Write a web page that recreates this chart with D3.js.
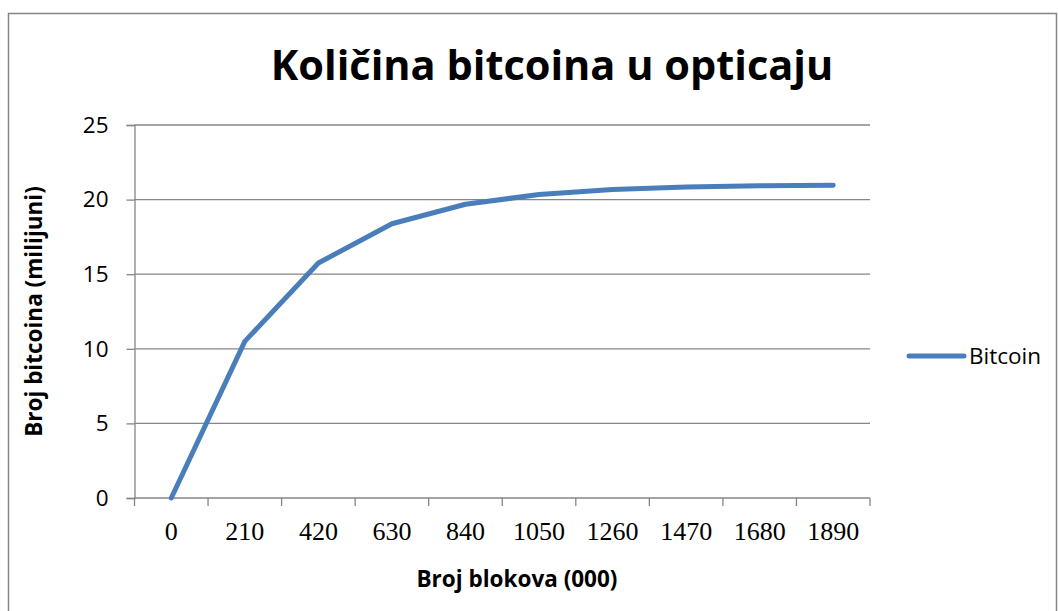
<!DOCTYPE html>
<html>
<head>
<meta charset="utf-8">
<script src="https://cdn.jsdelivr.net/npm/d3@7"></script>
<style>
  body { margin: 0; background: #fff; }
  svg { display: block; }
</style>
</head>
<body>
<div id="chart"></div>
<script>
// categories on the x axis (blocks, thousands)
var blocks = ["0", "210", "420", "630", "840", "1050", "1260", "1470", "1680", "1890"];
// bitcoins in circulation (millions)
var bitcoin = [0, 10.5, 15.75, 18.38, 19.69, 20.34, 20.67, 20.84, 20.92, 20.96];
var yTicks = [0, 5, 10, 15, 20, 25];

var W = 1058, H = 611;
var margin = {top: 125, right: 188, bottom: 113, left: 134.5},
    width = W - margin.left - margin.right,   // ~735.5
    height = H - margin.top - margin.bottom;  // 373

var svg = d3.select("#chart")
  .append("svg")
    .attr("width", W)
    .attr("height", H);

// outer chart border
svg.append("rect")
  .attr("x", 8.5).attr("y", 13.5)
  .attr("width", 1048).attr("height", 620)
  .attr("fill", "none")
  .attr("stroke", "#868686")
  .attr("stroke-width", 1.5);

var g = svg.append("g")
  .attr("transform", "translate(" + margin.left + "," + margin.top + ")");

var x = d3.scaleBand()
  .domain(blocks)
  .range([0, width]);

var y = d3.scaleLinear()
  .domain([0, 25])
  .range([height, 0]);

// horizontal grid lines
g.append("g")
  .selectAll("line")
  .data(yTicks.slice(1))
  .enter().append("line")
    .attr("x1", 0).attr("x2", width)
    .attr("y1", function(d) { return y(d); })
    .attr("y2", function(d) { return y(d); })
    .attr("stroke", "#868686")
    .attr("stroke-width", 1.3);

// y axis
var yAxis = g.append("g")
  .call(d3.axisLeft(y).tickValues(yTicks).tickSize(8).tickPadding(18));
yAxis.select(".domain").attr("stroke", "#868686").attr("stroke-width", 1.3);
yAxis.selectAll(".tick line").attr("stroke", "#868686").attr("stroke-width", 1.3);
yAxis.selectAll(".tick text")
  .attr("font-family", "'Open Sans', sans-serif")
  .attr("font-size", 22.5)
  .attr("fill", "#000");

// x axis: ticks sit on the category boundaries
var bounds = blocks.map(function(d) { return x(d); }).concat([width]);
var xAxis = g.append("g")
  .attr("transform", "translate(0," + height + ")");
xAxis.append("line")
  .attr("x1", 0).attr("x2", width)
  .attr("stroke", "#868686").attr("stroke-width", 1.3);
xAxis.selectAll(".tk")
  .data(bounds)
  .enter().append("line")
    .attr("class", "tk")
    .attr("x1", function(d) { return d; })
    .attr("x2", function(d) { return d; })
    .attr("y1", 0).attr("y2", 8)
    .attr("stroke", "#868686").attr("stroke-width", 1.3);
xAxis.selectAll(".lbl")
  .data(blocks)
  .enter().append("text")
    .attr("class", "lbl")
    .attr("x", function(d) { return x(d) + x.bandwidth() / 2; })
    .attr("y", 42)
    .attr("text-anchor", "middle")
    .attr("font-family", "'Liberation Serif', 'Times New Roman', serif")
    .attr("font-size", 26)
    .attr("fill", "#000")
    .text(function(d) { return d; });

// the line
var line = d3.line()
  .x(function(d, i) { return x(blocks[i]) + x.bandwidth() / 2; })
  .y(function(d) { return y(d); });

g.append("path")
  .datum(bitcoin)
  .attr("d", line)
  .attr("fill", "none")
  .attr("stroke", "#4a7ebb")
  .attr("stroke-width", 5)
  .attr("stroke-linecap", "round")
  .attr("stroke-linejoin", "round");

// title
svg.append("text")
  .attr("x", 552).attr("y", 80)
  .attr("text-anchor", "middle")
  .attr("font-family", "'Open Sans', sans-serif")
  .attr("font-weight", "bold")
  .attr("font-size", 41.5)
  .attr("fill", "#000")
  .text("Količina bitcoina u opticaju");

// axis titles
svg.append("text")
  .attr("x", 517).attr("y", 587)
  .attr("text-anchor", "middle")
  .attr("font-family", "'Open Sans', sans-serif")
  .attr("font-weight", "bold")
  .attr("font-size", 22.5)
  .attr("fill", "#000")
  .text("Broj blokova (000)");

svg.append("text")
  .attr("transform", "translate(42," + (margin.top + height / 2) + ") rotate(-90)")
  .attr("text-anchor", "middle")
  .attr("font-family", "'Open Sans', sans-serif")
  .attr("font-weight", "bold")
  .attr("font-size", 22.5)
  .attr("fill", "#000")
  .text("Broj bitcoina (milijuni)");

// legend
var legend = svg.append("g").attr("transform", "translate(909,356)");
legend.append("line")
  .attr("x1", 0).attr("x2", 55)
  .attr("stroke", "#4a7ebb")
  .attr("stroke-width", 5)
  .attr("stroke-linecap", "round");
legend.append("text")
  .attr("x", 60).attr("y", 8)
  .attr("font-family", "'Open Sans', sans-serif")
  .attr("font-size", 22.5)
  .attr("fill", "#000")
  .text("Bitcoin");
</script>
</body>
</html>
